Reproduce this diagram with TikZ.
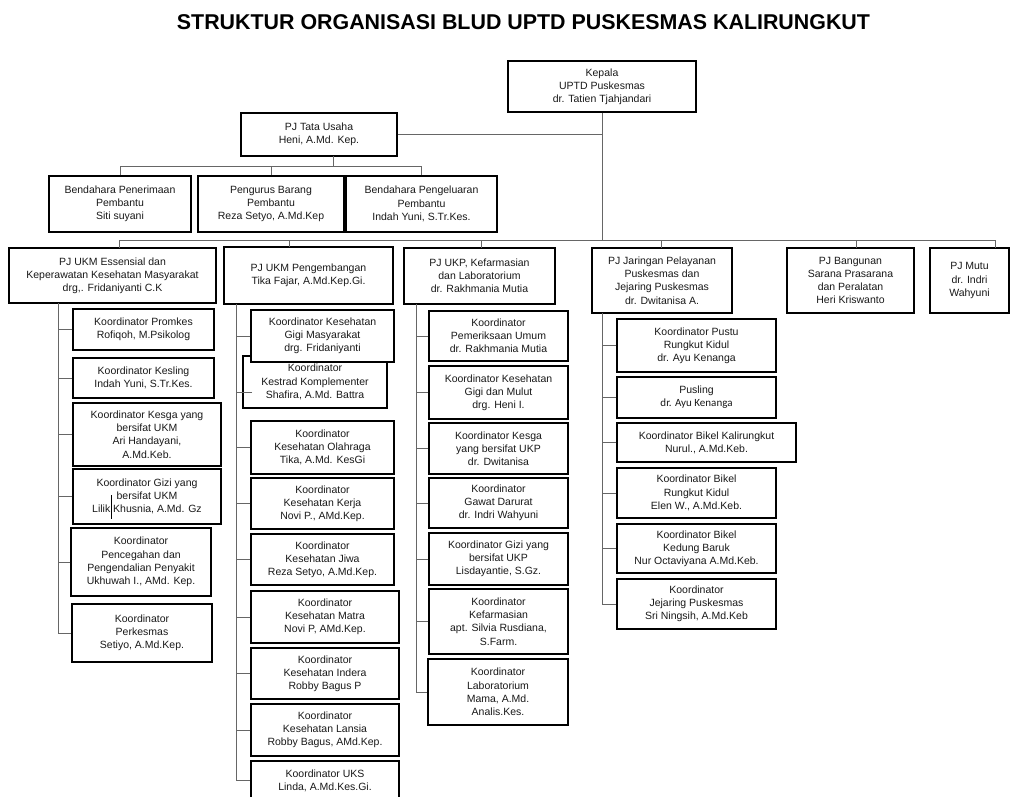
\documentclass[tikz,border=0pt]{standalone}
\usepackage{fontspec}
\setmainfont{Liberation Sans}
\newfontfamily\calfont{Carlito}
\usetikzlibrary{calc}
\tikzset{
  ob/.style={draw=black, line width=1.1pt, fill=white, align=center, inner sep=0pt,
    font=\fontsize{10.5}{13.2}\selectfont, text=black!90},
  cn/.style={draw=black!60, line width=0.8pt},
}
\newcommand{\obox}[6]{%
  \pgfmathsetmacro{\obcx}{(#2+#4)/2}%
  \pgfmathsetmacro{\obcy}{-(#3+#5)/2}%
  \pgfmathsetmacro{\obw}{#4-#2}%
  \pgfmathsetmacro{\obh}{#5-#3}%
  \node[ob, minimum width=\obw pt, minimum height=\obh pt] (#1) at (\obcx pt,\obcy pt) {#6};}
\begin{document}
\begin{tikzpicture}
\fill[white] (0,0) rectangle (1010pt,-796pt);
\useasboundingbox (0,0) rectangle (1010pt,-796pt);

\node[anchor=base, font=\bfseries\fontsize{21.4}{24}\selectfont] (title) at (523.5pt,-29pt)
  {STRUKTUR ORGANISASI BLUD UPTD PUSKESMAS KALIRUNGKUT};

% top levels
\obox{kep}{508}{61}{696}{112}{Kepala\\UPTD Puskesmas\\dr. Tatien Tjahjandari}
\obox{tu}{241}{113}{397}{156}{PJ Tata Usaha\\Heni, A.Md. Kep.}
\obox{bp1}{49}{176}{191}{232}{Bendahara Penerimaan\\Pembantu\\Siti suyani}
\obox{pb}{198}{176}{344}{232}{Pengurus Barang\\Pembantu\\Reza Setyo, A.Md.Kep}
\obox{bp2}{346}{176}{497}{232}{Bendahara Pengeluaran\\Pembantu\\Indah Yuni, S.Tr.Kes.}

% level 3
\obox{ukm1}{9}{248}{216}{303}{PJ UKM Essensial dan\\Keperawatan Kesehatan Masyarakat\\drg,. Fridaniyanti C.K}
\obox{ukm2}{224}{247}{393}{304}{PJ UKM Pengembangan\\Tika Fajar, A.Md.Kep.Gi.}
\obox{ukp}{404}{248}{555}{304}{PJ UKP, Kefarmasian\\dan Laboratorium\\dr. Rakhmania Mutia}
\obox{jar}{592}{248}{732}{313}{PJ Jaringan Pelayanan\\Puskesmas dan\\Jejaring Puskesmas\\dr. Dwitanisa A.}
\obox{bang}{787}{248}{914}{313}{PJ Bangunan\\Sarana Prasarana\\dan Peralatan\\Heri Kriswanto}
\obox{mutu}{930}{248}{1009}{313}{PJ Mutu\\dr. Indri\\Wahyuni}

% column 1
\obox{c1a}{73}{309}{214}{350}{Koordinator Promkes\\Rofiqoh, M.Psikolog}
\obox{c1b}{73}{358}{214}{398}{Koordinator Kesling\\Indah Yuni, S.Tr.Kes.}
\obox{c1c}{73}{403}{221}{466}{Koordinator Kesga yang\\bersifat UKM\\Ari Handayani,\\A.Md.Keb.}
\obox{c1d}{73}{469}{221}{524}{Koordinator Gizi yang\\bersifat UKM\\Lilik Khusnia, A.Md. Gz}
\obox{c1e}{71}{528}{211}{596}{Koordinator\\Pencegahan dan\\Pengendalian Penyakit\\Ukhuwah I., AMd. Kep.}
\obox{c1f}{72}{604}{212}{662}{Koordinator\\Perkesmas\\Setiyo, A.Md.Kep.}
\draw[black, line width=0.8pt] (111pt,-495pt) -- (111pt,-519pt);

% column 2
\obox{c2b}{243}{356}{387}{408}{Koordinator\\Kestrad Komplementer\\Shafira, A.Md. Battra}
\obox{c2a}{251}{310}{394}{362}{Koordinator Kesehatan\\Gigi Masyarakat\\drg. Fridaniyanti}
\obox{c2c}{251}{421}{394}{474}{Koordinator\\Kesehatan Olahraga\\Tika, A.Md. KesGi}
\obox{c2d}{251}{478}{394}{529}{Koordinator\\Kesehatan Kerja\\Novi P., AMd.Kep.}
\obox{c2e}{251}{534}{394}{585}{Koordinator\\Kesehatan Jiwa\\Reza Setyo, A.Md.Kep.}
\obox{c2f}{251}{591}{399}{643}{Koordinator\\Kesehatan Matra\\Novi P, AMd.Kep.}
\obox{c2g}{251}{648}{399}{699}{Koordinator\\Kesehatan Indera\\Robby Bagus P}
\obox{c2h}{251}{704}{399}{756}{Koordinator\\Kesehatan Lansia\\Robby Bagus, AMd.Kep.}
\obox{c2i}{251}{761}{399}{800}{Koordinator UKS\\Linda, A.Md.Kes.Gi.}

% column 3
\obox{c3a}{429}{311}{568}{361}{Koordinator\\Pemeriksaan Umum\\dr. Rakhmania Mutia}
\obox{c3b}{429}{366}{568}{419}{Koordinator Kesehatan\\Gigi dan Mulut\\drg. Heni I.}
\obox{c3c}{429}{423}{568}{474}{Koordinator Kesga\\yang bersifat UKP\\dr. Dwitanisa}
\obox{c3d}{429}{478}{568}{528}{Koordinator\\Gawat Darurat\\dr. Indri Wahyuni}
\obox{c3e}{429}{533}{568}{585}{Koordinator Gizi yang\\bersifat UKP\\Lisdayantie, S.Gz.}
\obox{c3f}{429}{589}{568}{654}{Koordinator\\Kefarmasian\\apt. Silvia Rusdiana,\\S.Farm.}
\obox{c3g}{428}{659}{568}{725}{Koordinator\\Laboratorium\\Mama, A.Md.\\Analis.Kes.}

% column 4
\obox{c4a}{617}{319}{776}{372}{Koordinator Pustu\\Rungkut Kidul\\dr. Ayu Kenanga}
\obox{c4b}{617}{377}{776}{418}{Pusling\\{\calfont\fontsize{11}{13.2}\selectfont dr. Ayu Kenanga}}
\obox{c4c}{617}{423}{796}{462}{Koordinator Bikel Kalirungkut\\Nurul., A.Md.Keb.}
\obox{c4d}{617}{468}{776}{518}{Koordinator Bikel\\Rungkut Kidul\\Elen W., A.Md.Keb.}
\obox{c4e}{617}{524}{776}{573}{Koordinator Bikel\\Kedung Baruk\\Nur Octaviyana A.Md.Keb.}
\obox{c4f}{617}{579}{776}{629}{Koordinator\\Jejaring Puskesmas\\Sri Ningsih, A.Md.Keb}

% connectors: top
\coordinate (kv) at (602pt,-240pt);
\draw[cn] (kep.south) -- (kv);
\draw[cn] (tu.east) -- (tu.east -| kep.south);
\coordinate (tuS) at (333pt,-156pt);
\coordinate (b2) at (333pt,-166pt);
\draw[cn] (tuS) -- (b2);
\draw[cn] (bp1.north) |- (b2);
\draw[cn] (bp2.north) |- (b2);
\draw[cn] (pb.north) -- (pb.north |- b2);

% level 3 bus
\coordinate (u1) at (119pt,-248pt);
\coordinate (u2) at (289pt,-247pt);
\coordinate (u3) at (481pt,-248pt);
\coordinate (u4) at (661pt,-248pt);
\coordinate (u5) at (856pt,-248pt);
\coordinate (u6) at (995pt,-248pt);
\draw[cn] (u1) |- (kv);
\draw[cn] (u6) |- (kv);
\draw[cn] (u2) -- (u2 |- kv);
\draw[cn] (u3) -- (u3 |- kv);
\draw[cn] (u4) -- (u4 |- kv);
\draw[cn] (u5) -- (u5 |- kv);

% column 1 trunk
\coordinate (t1) at (58pt,-303pt);
\draw[cn] (t1) |- (c1f.west);
\foreach \n in {c1a,c1b,c1c,c1d,c1e}{\draw[cn] (\n.west) -- (\n.west -| t1);}

% column 2 trunk
\coordinate (t2) at (236pt,-304pt);
\coordinate (k2) at (252pt,-392pt);
\draw[cn] (t2) |- (c2i.west);
\draw[cn] (k2) -- (k2 -| t2);
\foreach \n in {c2a,c2c,c2d,c2e,c2f,c2g,c2h}{\draw[cn] (\n.west) -- (\n.west -| t2);}

% column 3 trunk
\coordinate (t3) at (416pt,-304pt);
\draw[cn] (t3) |- (c3g.west);
\foreach \n in {c3a,c3b,c3c,c3d,c3e,c3f}{\draw[cn] (\n.west) -- (\n.west -| t3);}

% column 4 trunk
\coordinate (t4) at (602pt,-313pt);
\draw[cn] (t4) |- (c4f.west);
\foreach \n in {c4a,c4b,c4c,c4d,c4e}{\draw[cn] (\n.west) -- (\n.west -| t4);}
\end{tikzpicture}
\end{document}
